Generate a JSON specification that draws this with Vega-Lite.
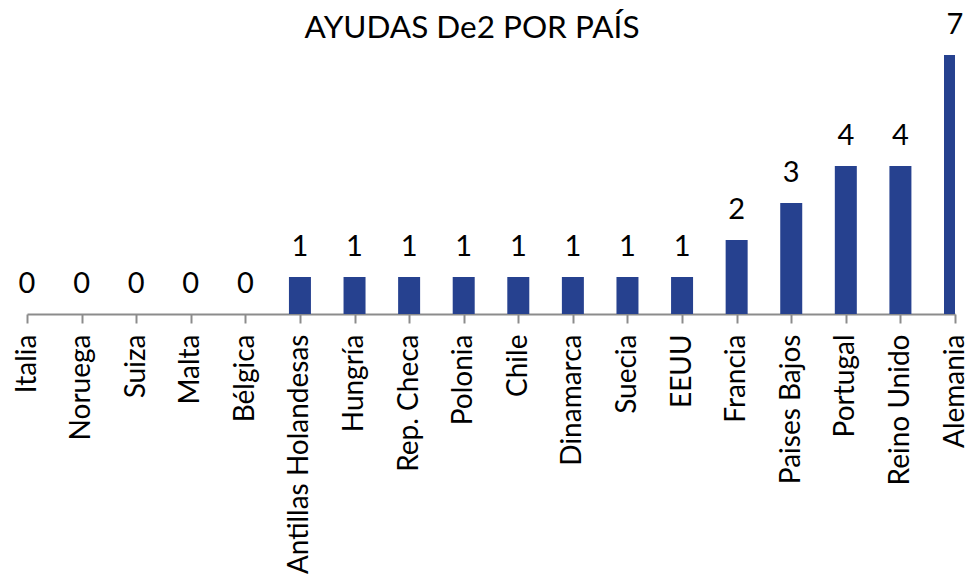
{
  "$schema": "https://vega.github.io/schema/vega-lite/v6.json",
  "width": 928,
  "height": 259,
  "autosize": {"type": "none"},
  "padding": {"left": 27, "top": 55, "right": 21, "bottom": 271},
  "background": "white",
  "config": {"view": {"stroke": null}, "font": "Lato"},
  "title": {
    "text": "AYUDAS De2 POR PAÍS",
    "fontSize": 31.5,
    "fontWeight": "normal",
    "font": "Lato",
    "color": "#000000",
    "anchor": "middle",
    "frame": "group",
    "baseline": "alphabetic",
    "dx": -19,
    "offset": -58
  },
  "data": {
    "values": [
      {"pais": "Italia", "ayudas": 0},
      {"pais": "Noruega", "ayudas": 0},
      {"pais": "Suiza", "ayudas": 0},
      {"pais": "Malta", "ayudas": 0},
      {"pais": "Bélgica", "ayudas": 0},
      {"pais": "Antillas Holandesas", "ayudas": 1},
      {"pais": "Hungría", "ayudas": 1},
      {"pais": "Rep. Checa", "ayudas": 1},
      {"pais": "Polonia", "ayudas": 1},
      {"pais": "Chile", "ayudas": 1},
      {"pais": "Dinamarca", "ayudas": 1},
      {"pais": "Suecia", "ayudas": 1},
      {"pais": "EEUU", "ayudas": 1},
      {"pais": "Francia", "ayudas": 2},
      {"pais": "Paises Bajos", "ayudas": 3},
      {"pais": "Portugal", "ayudas": 4},
      {"pais": "Reino Unido", "ayudas": 4},
      {"pais": "Alemania", "ayudas": 7}
    ]
  },
  "encoding": {
    "x": {
      "field": "pais",
      "type": "nominal",
      "sort": null,
      "scale": {"type": "point", "padding": 0},
      "axis": {
        "title": null,
        "labelAngle": -90,
        "labelFontSize": 28,
        "labelFont": "Lato",
        "labelColor": "#000000",
        "labelPadding": 11,
        "labelLimit": 0,
        "tickSize": 9,
        "tickColor": "#8c8c8c",
        "domainColor": "#8c8c8c",
        "domainWidth": 2,
        "tickWidth": 2,
        "grid": false
      }
    },
    "y": {
      "field": "ayudas",
      "type": "quantitative",
      "scale": {"domain": [0, 7], "nice": false},
      "axis": null
    }
  },
  "layer": [
    {
      "mark": {"type": "bar", "size": 22, "color": "#26418f", "clip": true}
    },
    {
      "mark": {"type": "text", "baseline": "alphabetic", "dy": -21, "fontSize": 29, "font": "Lato", "color": "#000000"},
      "encoding": {"text": {"field": "ayudas", "type": "quantitative"}}
    }
  ]
}
